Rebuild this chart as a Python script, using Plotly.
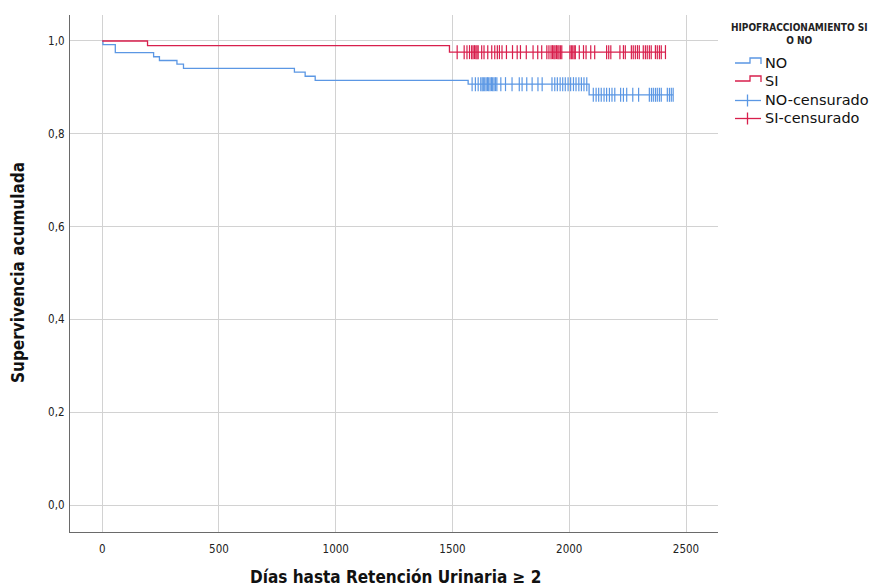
import numpy as np
import plotly.graph_objects as go

# Kaplan-Meier steps: event days and survival level after each event
no_event_days = [0, 3, 56, 220, 245, 320, 348, 823, 869, 912, 1567, 2085]
no_surv = [1.0, 0.992, 0.975, 0.966, 0.958, 0.950, 0.941, 0.933, 0.924, 0.915, 0.907, 0.884]
si_event_days = [0, 194, 1487]
si_surv = [1.0, 0.990, 0.976]

# censored observations (days)
no_cens_days = [1584, 1598, 1610, 1621, 1627, 1632, 1638, 1644, 1650, 1655, 1661, 1667,
                1672, 1678, 1684, 1690, 1707, 1727, 1755, 1786, 1798, 1818, 1841, 1866,
                1884, 1926, 1938, 1949, 1961, 1972, 1983, 1995, 2006, 2018, 2029, 2041,
                2052, 2063, 2075, 2103, 2115, 2126, 2137, 2149, 2160, 2172, 2183, 2195,
                2220, 2232, 2246, 2272, 2297, 2343, 2352, 2360, 2369, 2377, 2386, 2394,
                2420, 2429, 2437, 2445]
si_cens_days = [1520, 1550, 1562, 1573, 1582, 1588, 1594, 1600, 1605, 1610, 1625, 1635,
                1651, 1668, 1681, 1692, 1701, 1712, 1731, 1757, 1777, 1791, 1816, 1845,
                1865, 1882, 1904, 1913, 1922, 1928, 1934, 1939, 1945, 1951, 1956, 1962,
                1968, 2003, 2009, 2015, 2021, 2026, 2043, 2061, 2072, 2092, 2109, 2160,
                2169, 2178, 2217, 2232, 2240, 2266, 2274, 2283, 2292, 2300, 2317, 2326,
                2334, 2343, 2351, 2369, 2377, 2386, 2394, 2412]

x_ticks = [0, 500, 1000, 1500, 2000, 2500]
y_ticks = [0.0, 0.2, 0.4, 0.6, 0.8, 1.0]

legend_title = "HIPOFRACCIONAMIENTO SI<br>O NO"
group_names = ["NO", "SI"]
censored_names = ["NO-censurado", "SI-censurado"]
x_title = "Días hasta Retención Urinaria ≥ 2"
y_title = "Supervivencia acumulada"

BLUE = "#5b97e4"
RED = "#d81f4c"
FONT = "DejaVu Sans Condensed, DejaVu Sans, Arial, sans-serif"


def level_at(days, ev_days, surv):
    idx = np.searchsorted(np.array(ev_days), np.array(days), side="right") - 1
    return np.array(surv)[idx]


def step_xy(ev_days, surv, cens):
    last = max(cens) if cens else ev_days[-1]
    return list(ev_days) + [last], list(surv) + [surv[-1]]


fig = go.Figure()

for ev, sv, cens, col in [(no_event_days, no_surv, no_cens_days, BLUE),
                          (si_event_days, si_surv, si_cens_days, RED)]:
    xs, ys = step_xy(ev, sv, cens)
    fig.add_trace(go.Scatter(x=xs, y=ys, mode="lines", line=dict(color=col, width=1.3, shape="hv"),
                             showlegend=False, hoverinfo="skip"))
    fig.add_trace(go.Scatter(x=cens, y=level_at(cens, ev, sv), mode="markers",
                             marker=dict(symbol="line-ns", size=10, line=dict(color=col, width=1.2)),
                             showlegend=False, hoverinfo="skip"))

# plot-area geometry in pixels (used for legend placement)
W, H = 876, 587
L, R, T, B = 70, 158, 15, 55
pw, ph = W - L - R, H - T - B


def px(x):
    return (x - L) / pw


def py(y):
    return (H - B - y) / ph


shapes = []
annotations = []

# legend title
annotations.append(dict(x=px(800), y=py(34), xref="paper", yref="paper", text="<b>" + legend_title + "</b>",
                        showarrow=False, xanchor="center", yanchor="middle", align="center",
                        font=dict(family=FONT, size=10, color="#222")))

# step icons for the survival curves
for name, col, yc in [(group_names[0], BLUE, 63), (group_names[1], RED, 81)]:
    pts = [(735, yc), (750, yc), (750, yc - 5), (761, yc - 5), (761, yc + 1)]
    path = "M " + " L ".join(f"{px(a)},{py(b)}" for a, b in pts)
    shapes.append(dict(type="path", xref="paper", yref="paper", path=path,
                       line=dict(color=col, width=1.3)))
    annotations.append(dict(x=px(763), y=py(yc), xref="paper", yref="paper", text=name, showarrow=False,
                            xanchor="left", yanchor="middle", font=dict(family="DejaVu Sans", size=14.5, color="#111")))

# cross icons for the censored marks
for name, col, yc in [(censored_names[0], BLUE, 100.5), (censored_names[1], RED, 118.5)]:
    shapes.append(dict(type="line", xref="paper", yref="paper", x0=px(735), x1=px(761), y0=py(yc), y1=py(yc),
                       line=dict(color=col, width=1.3)))
    shapes.append(dict(type="line", xref="paper", yref="paper", x0=px(747.5), x1=px(747.5), y0=py(yc - 6),
                       y1=py(yc + 6), line=dict(color=col, width=1.3)))
    annotations.append(dict(x=px(763), y=py(yc), xref="paper", yref="paper", text=name, showarrow=False,
                            xanchor="left", yanchor="middle", font=dict(family="DejaVu Sans", size=14.5, color="#111")))

# axis titles
annotations.append(dict(x=px(395), y=py(577), xref="paper", yref="paper", text="<b>" + x_title + "</b>",
                        showarrow=False, xanchor="center", yanchor="middle",
                        font=dict(family=FONT, size=17, color="#111")))
annotations.append(dict(x=px(18), y=py(273), xref="paper", yref="paper", text="<b>" + y_title + "</b>",
                        showarrow=False, xanchor="center", yanchor="middle", textangle=-90,
                        font=dict(family=FONT, size=17, color="#111")))

fig.update_layout(
    width=W, height=H,
    margin=dict(l=L, r=R, t=T, b=B, autoexpand=False),
    paper_bgcolor="white", plot_bgcolor="white",
    separators=",.",
    showlegend=False,
    shapes=shapes, annotations=annotations,
    xaxis=dict(range=[-138, 2637], tickvals=x_ticks, showgrid=True, gridcolor="#d2d2d2", gridwidth=1,
               showline=True, linecolor="#6a6a6a", linewidth=1.3, zeroline=False, ticks="",
               tickfont=dict(family=FONT, size=11.5, color="#222"), ticklabelstandoff=6),
    yaxis=dict(range=[-0.058, 1.056], tickvals=y_ticks, tickformat=".1f", showgrid=True, gridcolor="#d2d2d2",
               gridwidth=1, showline=True, linecolor="#6a6a6a", linewidth=1.3, zeroline=False, ticks="",
               tickfont=dict(family=FONT, size=11.5, color="#222"), ticklabelstandoff=2),
)

fig.write_html("out.html")
